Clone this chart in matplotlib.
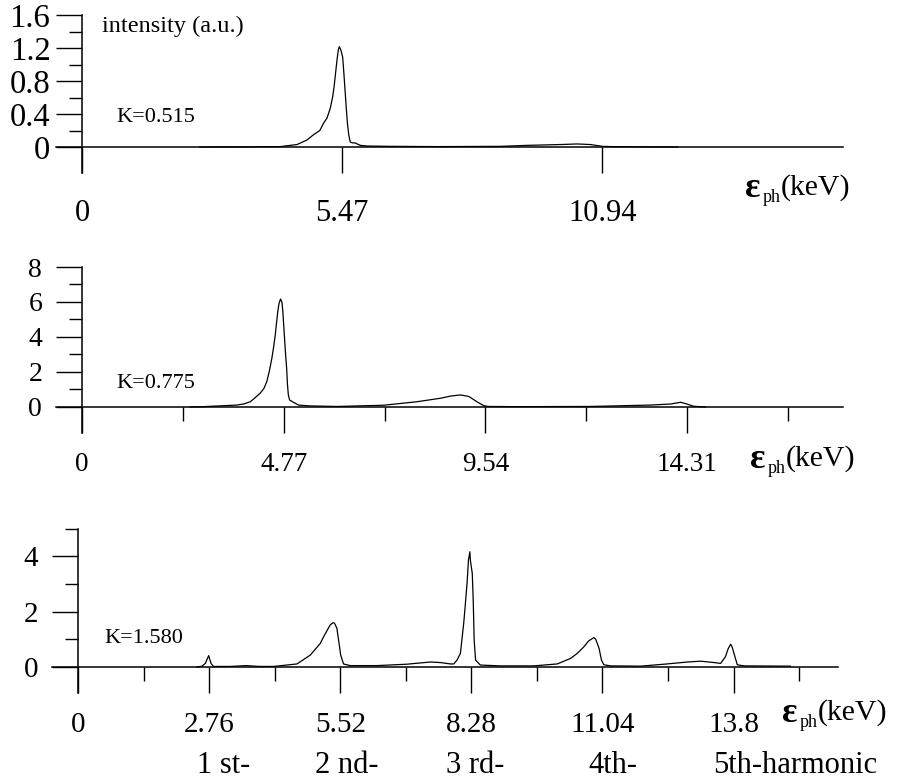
import numpy as np
import matplotlib
matplotlib.use("Agg")
import matplotlib.pyplot as plt

plt.rcParams['font.family'] = ['Liberation Serif', 'DejaVu Serif']

# ---- spectra (x in keV, y intensity a.u.)
k0515_x = [2.48, 3.5, 4.17, 4.52, 4.73, 4.87, 5.0, 5.08, 5.15, 5.22, 5.27, 5.30, 5.33, 5.36, 5.39,
           5.41, 5.44, 5.48, 5.505, 5.53, 5.555, 5.58, 5.61, 5.64, 5.69, 5.74, 5.85, 5.99, 6.5,
           7.5, 8.79, 9.36, 10.06, 10.41, 10.69, 10.94, 11.2, 12.52]
k0515_y = [0.0, 0.002, 0.005, 0.03, 0.085, 0.15, 0.2, 0.29, 0.35, 0.47, 0.61, 0.73, 0.89, 1.05, 1.18,
           1.216, 1.18, 1.09, 0.90, 0.69, 0.48, 0.29, 0.14, 0.06, 0.05, 0.05, 0.02, 0.012, 0.008,
           0.005, 0.008, 0.02, 0.03, 0.037, 0.03, 0.008, 0.004, 0.0]

k0775_x = [2.56, 2.87, 3.66, 3.82, 3.98, 4.06, 4.21, 4.30, 4.37, 4.43, 4.49, 4.53, 4.57, 4.60, 4.63,
           4.66, 4.695, 4.73, 4.75, 4.775, 4.81, 4.84, 4.86, 4.88, 4.91, 5.00, 5.12, 5.40, 6.03,
           7.13, 7.92, 8.48, 8.71, 8.95, 9.15, 9.34, 9.50, 9.6, 10.29, 12.0, 13.45, 13.92, 14.16,
           14.31, 14.47, 14.75]
k0775_y = [0.0, 0.02, 0.11, 0.17, 0.30, 0.46, 0.78, 1.05, 1.45, 2.05, 2.78, 3.40, 4.11, 4.80, 5.45,
           5.93, 6.17, 5.98, 5.45, 4.50, 3.16, 2.20, 1.26, 0.69, 0.40, 0.27, 0.11, 0.06, 0.03,
           0.10, 0.30, 0.50, 0.62, 0.69, 0.60, 0.30, 0.08, 0.03, 0.02, 0.03, 0.11, 0.17, 0.27,
           0.17, 0.04, 0.0]

k1580_x = [2.5, 2.61, 2.68, 2.75, 2.80, 2.85, 3.2, 3.55, 3.8, 4.12, 4.61, 4.89, 5.10, 5.17, 5.27,
           5.31, 5.37, 5.40, 5.45, 5.47, 5.51, 5.53, 5.59, 5.73, 6.29, 6.92, 7.42, 7.63, 7.84,
           7.91, 7.98, 8.05, 8.12, 8.15, 8.19, 8.22, 8.25, 8.26, 8.30, 8.32, 8.34, 8.37, 8.47,
           8.89, 9.59, 10.09, 10.37, 10.51, 10.65, 10.75, 10.86, 10.90, 10.97, 11.02, 11.07,
           11.21, 11.84, 12.40, 12.83, 13.11, 13.39, 13.53, 13.63, 13.69, 13.74, 13.77, 13.81,
           13.88, 14.02, 15.0]
k1580_y = [0.0, 0.03, 0.13, 0.41, 0.13, 0.02, 0.02, 0.05, 0.02, 0.02, 0.11, 0.43, 0.85, 1.09, 1.40,
           1.52, 1.60, 1.58, 1.40, 1.16, 0.68, 0.43, 0.11, 0.05, 0.05, 0.10, 0.18, 0.16, 0.11,
           0.11, 0.25, 0.49, 1.58, 2.18, 3.02, 3.86, 4.16, 3.86, 3.38, 2.42, 0.97, 0.25, 0.07,
           0.04, 0.04, 0.11, 0.31, 0.49, 0.73, 0.94, 1.06, 1.0, 0.67, 0.25, 0.08,
           0.04, 0.03, 0.11, 0.18, 0.21, 0.16, 0.13, 0.37, 0.67, 0.82, 0.73, 0.49,
           0.08, 0.04, 0.03]

# ticks
xt1 = [0, 5.47, 10.94]
xl1 = ['0', '5.47', '10.94']
yt1 = [0, 0.4, 0.8, 1.2, 1.6]
yl1 = ['0', '0.4', '0.8', '1.2', '1.6']
ym1 = [0.2, 0.6, 1.0, 1.4]

xt2 = [0, 4.77, 9.54, 14.31]
xl2 = ['0', '4.77', '9.54', '14.31']
xm2 = [2.385, 7.155, 11.925, 16.695]
yt2 = [0, 2, 4, 6, 8]
ym2 = [1, 3, 5, 7]

xt3 = [0, 2.76, 5.52, 8.28, 11.04, 13.8]
xl3 = ['0', '2.76', '5.52', '8.28', '11.04', '13.8']
xm3 = [1.38, 4.14, 6.9, 9.66, 12.42, 15.18]
yt3 = [0, 2, 4]
ym3 = [1, 3, 5]

harmonics = ['1 st-', '2 nd-', '3 rd-', '4th-', '5th-harmonic']

W, H = 905.0, 781.0
fig = plt.figure(figsize=(W/100, H/100), dpi=100)

def pxaxes(l, r, t, b):
    return fig.add_axes([l/W, 1-b/H, (r-l)/W, (b-t)/H])

def ftext(x, y, s, **kw):
    fig.text(x/W, 1-y/H, s, **kw)

def style(ax, xfs, yfs, xpad, ypad):
    for s in ['top', 'right']:
        ax.spines[s].set_visible(False)
    ax.spines['left'].set_position(('data', 0))
    ax.spines['bottom'].set_position(('data', 0))
    ax.spines['left'].set_linewidth(1.1)
    ax.spines['bottom'].set_linewidth(1.1)
    ax.tick_params(axis='x', which='major', direction='out', length=18.7, width=1, pad=xpad, labelsize=xfs)
    ax.tick_params(axis='x', which='minor', direction='out', length=10, width=1)
    ax.tick_params(axis='y', which='major', direction='out', length=18.7, width=1, pad=ypad, labelsize=yfs)
    ax.tick_params(axis='y', which='minor', direction='out', length=9.4, width=1)
    ax.patch.set_visible(False)

# panel 1
ax1 = pxaxes(56, 843, 15, 173)
ax1.plot(k0515_x, k0515_y, 'k', lw=0.9)
ax1.set_xlim(-0.547, 16)
ax1.set_ylim(-0.315, 1.6)
ax1.set_xticks(xt1, xl1)
ax1.set_yticks(yt1, yl1)
ax1.set_yticks(ym1, minor=True)
style(ax1, 22, 23.5, 19, 4)

# panel 2
ax2 = pxaxes(56, 843, 267, 433)
ax2.plot(k0775_x, k0775_y, 'k', lw=0.9)
ax2.set_xlim(-0.616, 18)
ax2.set_ylim(-1.486, 8)
ax2.set_xticks(xt2, xl2)
ax2.set_xticks(xm2, minor=True)
ax2.set_yticks(yt2, [str(v) for v in yt2])
ax2.set_yticks(ym2, minor=True)
style(ax2, 19.5, 20, 14, 10)

# panel 3
ax3 = pxaxes(52, 838, 528.5, 693)
ax3.plot(k1580_x, k1580_y, 'k', lw=0.9)
ax3.set_xlim(-0.548, 16)
ax3.set_ylim(-0.939, 5)
ax3.set_xticks(xt3, xl3)
ax3.set_xticks(xm3, minor=True)
ax3.set_yticks(yt3, [str(v) for v in yt3])
ax3.set_yticks(ym3, minor=True)
style(ax3, 21, 21, 14, 10)

# annotations
ftext(102, 32, 'intensity (a.u.)', fontsize=17.5, va='baseline')
ftext(116, 122, 'K=0.515', fontsize=16, va='baseline')
ftext(116, 388, 'K=0.775', fontsize=16, va='baseline')
ftext(104, 643, 'K=1.580', fontsize=16, va='baseline')

# energy axis labels: (x of epsilon, baseline of "(keV)")
for ex, ky in [(745, 195), (750, 466), (782, 720)]:
    ftext(ex, ky + 2, '\u03b5', fontsize=26, fontweight='bold', va='baseline')
    ftext(ex + 18, ky + 7, 'ph', fontsize=13, va='baseline')
    ftext(ex + 36, ky, '(keV)', fontsize=21.5, va='baseline')

# harmonic order labels under bottom panel
hx = [224, 347, 475, 613, 713]
for i in range(len(harmonics)):
    if i < 4:
        ftext(hx[i], 773, harmonics[i], fontsize=22, va='baseline', ha='center')
    else:
        ftext(hx[i], 773, harmonics[i], fontsize=22, va='baseline', ha='left')

fig.savefig('out.png', dpi=100)
